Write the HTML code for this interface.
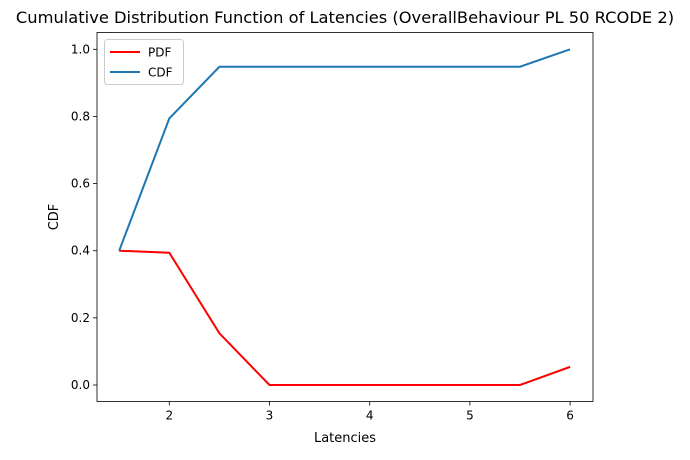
<!DOCTYPE html>
<html><head><meta charset="utf-8"><style>
body{margin:0;background:#fff;font-family:"Liberation Sans","DejaVu Sans",sans-serif;}
svg text{font-family:"DejaVu Sans","Liberation Sans",sans-serif;}
</style></head><body>
<svg id="chart" width="690" height="455">
<text x="345" y="23" font-size="16.3" text-anchor="middle">Cumulative Distribution Function of Latencies (OverallBehaviour PL 50 RCODE 2)</text>
<g id="plot"></g>
<text x="345" y="442" font-size="13" text-anchor="middle">Latencies</text>
<text x="58" y="217" font-size="13" text-anchor="middle" transform="rotate(-90 58 217)">CDF</text>
</svg>
<script>
const latencies=[1.5,2,2.5,3,3.5,4,4.5,5,5.5,6];
const pdfValues=[0.40,0.394,0.154,0,0,0,0,0,0,0.054];
const cdfValues=[0.40,0.794,0.948,0.948,0.948,0.948,0.948,0.948,0.948,1.0];
const xTicks=[2,3,4,5,6];
const yTicks=[0.0,0.2,0.4,0.6,0.8,1.0];
const NS="http://www.w3.org/2000/svg";
const L=97,R=593,T=32.5,B=401.5;
const xs=v=>169.3+(v-2)*100.2;
const ys=v=>385-v*335.7;
const g=document.getElementById('plot');
function mk(t,a){const e=document.createElementNS(NS,t);for(const k in a)e.setAttribute(k,a[k]);g.appendChild(e);return e;}
xTicks.forEach(v=>{
 const t=mk('line',{x1:xs(v),x2:xs(v),y1:B,y2:B+4,stroke:'#000','stroke-width':0.8});
 
 
 const tx=mk('text',{x:xs(v),y:B+18,'font-size':12,'text-anchor':'middle'});tx.textContent=v;
 
 
});
yTicks.forEach(v=>{
 const t=mk('line',{x1:L-4,x2:L,y1:ys(v),y2:ys(v),stroke:'#000','stroke-width':0.8});
 
 
 const tx=mk('text',{x:L-7,y:ys(v)+4,'font-size':12,'text-anchor':'end'});tx.textContent=v.toFixed(1);
 
 
});
const pts=a=>a.map((v,i)=>xs(latencies[i])+','+ys(v)).join(' ');
const p1=mk('polyline',{points:pts(pdfValues),fill:'none',stroke:'#ff0000','stroke-width':2});


const p2=mk('polyline',{points:pts(cdfValues),fill:'none',stroke:'#1f77b4','stroke-width':2});


const fr=mk('rect',{x:L,y:T,width:R-L,height:B-T,fill:'none',stroke:'#000','stroke-width':0.8});


const lg=mk('rect',{x:104.5,y:39.5,width:79,height:45,rx:3,fill:'#fff',stroke:'#ccc','stroke-width':1});


[['PDF','#ff0000',52],['CDF','#1f77b4',72]].forEach(([n,c,y])=>{
 const l=mk('line',{x1:110,x2:140,y1:y,y2:y,stroke:c,'stroke-width':2});
 
 
 const t=mk('text',{x:148,y:y+4.5,'font-size':12});t.textContent=n;
 
 
});
</script>
</body></html>
